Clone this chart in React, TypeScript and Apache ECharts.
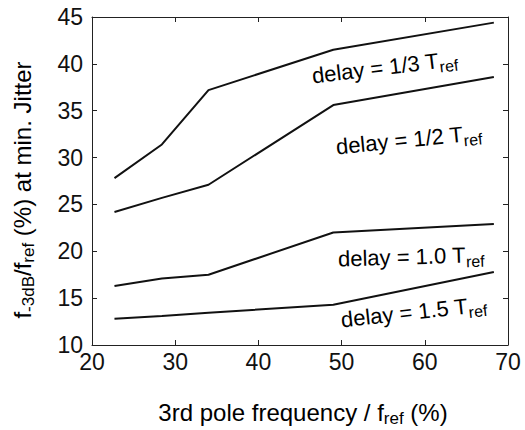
import React, { useEffect, useRef } from "react";
import * as echarts from "echarts";

const poleFreq = [22.7, 28.4, 34.0, 49.0, 68.3];
const delayThird = [27.8, 31.4, 37.2, 41.5, 44.4];
const delayHalf = [24.2, 25.7, 27.1, 35.6, 38.6];
const delayOne = [16.3, 17.1, 17.5, 22.0, 22.9];
const delayOneHalf = [12.8, 13.1, 13.45, 14.3, 17.8];
const seriesNames = ["1/3", "1/2", "1.0", "1.5"];

const FONT = "Liberation Sans, Arial, Helvetica, sans-serif";

const rich = {
  m: { fontSize: 22, fontFamily: FONT, color: "#111" },
  s: { fontSize: 16, fontFamily: FONT, color: "#111", padding: [13, 0, 0, 0] },
};

export default function App() {
  const ref = useRef<HTMLDivElement>(null);
  useEffect(() => {
    if (!ref.current) return;
    const chart = echarts.init(ref.current, undefined, { renderer: "svg" });
    const mk = (vals: number[]) => poleFreq.map((x, i) => [x, vals[i]]);
    const lineSeries = [delayThird, delayHalf, delayOne, delayOneHalf].map((v, i) => ({
      type: "line",
      name: seriesNames[i],
      data: mk(v),
      showSymbol: false,
      symbol: "none",
      lineStyle: { color: "#111", width: 2 },
      xAxisIndex: 0,
      yAxisIndex: 0,
    }));
    const axisLine = { show: true, onZero: false, lineStyle: { color: "#222", width: 1 } };
    const axisTick = { show: true, inside: true, length: 5, lineStyle: { color: "#222" } };
    const labels = [
      { t: seriesNames[0], x: 312, y: 76, r: 0.12 },
      { t: seriesNames[1], x: 336, y: 147, r: 0.1 },
      { t: seriesNames[2], x: 338, y: 259, r: 0.03 },
      { t: seriesNames[3], x: 341, y: 320, r: 0.11 },
    ];
    chart.setOption({
      animation: false,
      backgroundColor: "#fff",
      grid: { left: 92, right: 17, top: 17, bottom: 85 },
      xAxis: [
        {
          type: "value", min: 20, max: 70, interval: 10, position: "bottom",
          axisLine, axisTick, splitLine: { show: false },
          axisLabel: { fontSize: 23, fontFamily: FONT, color: "#111", margin: 5 },
        },
        {
          type: "value", min: 20, max: 70, interval: 10, position: "top",
          axisLine, axisTick, splitLine: { show: false }, axisLabel: { show: false },
        },
      ],
      yAxis: [
        {
          type: "value", min: 10, max: 45, interval: 5, position: "left",
          axisLine, axisTick, splitLine: { show: false },
          axisLabel: { fontSize: 23, fontFamily: FONT, color: "#111", margin: 9 },
        },
        {
          type: "value", min: 10, max: 45, interval: 5, position: "right",
          axisLine, axisTick, splitLine: { show: false }, axisLabel: { show: false },
        },
      ],
      series: lineSeries,
      graphic: [
        ...labels.map((l) => ({
          type: "text",
          x: l.x,
          y: l.y,
          rotation: l.r,
          style: {
            text: `{m|delay = ${l.t} T}{s|ref}`,
            rich,
            align: "left",
            verticalAlign: "middle",
          },
        })),
        {
          type: "text",
          x: 303,
          y: 412,
          style: {
            text: "{m|3rd pole frequency / f}{s|ref}{m| (%)}",
            rich: {
              m: { fontSize: 24, fontFamily: FONT, color: "#111" },
              s: { fontSize: 17, fontFamily: FONT, color: "#111", padding: [13, 0, 0, 0] },
            },
            align: "center",
            verticalAlign: "middle",
          },
        },
        {
          type: "text",
          x: 22,
          y: 190,
          rotation: Math.PI / 2,
          style: {
            text: "{m|f}{s|-3dB}{m|/f}{s|ref}{m| (%) at min. Jitter}",
            rich: {
              m: { fontSize: 24, fontFamily: FONT, color: "#111" },
              s: { fontSize: 17, fontFamily: FONT, color: "#111", padding: [13, 0, 0, 0] },
            },
            align: "center",
            verticalAlign: "middle",
          },
        },
      ],
    });
    return () => chart.dispose();
  }, []);
  return (
    <div
      ref={ref}
      style={{ position: "fixed", left: 0, top: 0, width: 525, height: 430, background: "#fff" }}
    />
  );
}
